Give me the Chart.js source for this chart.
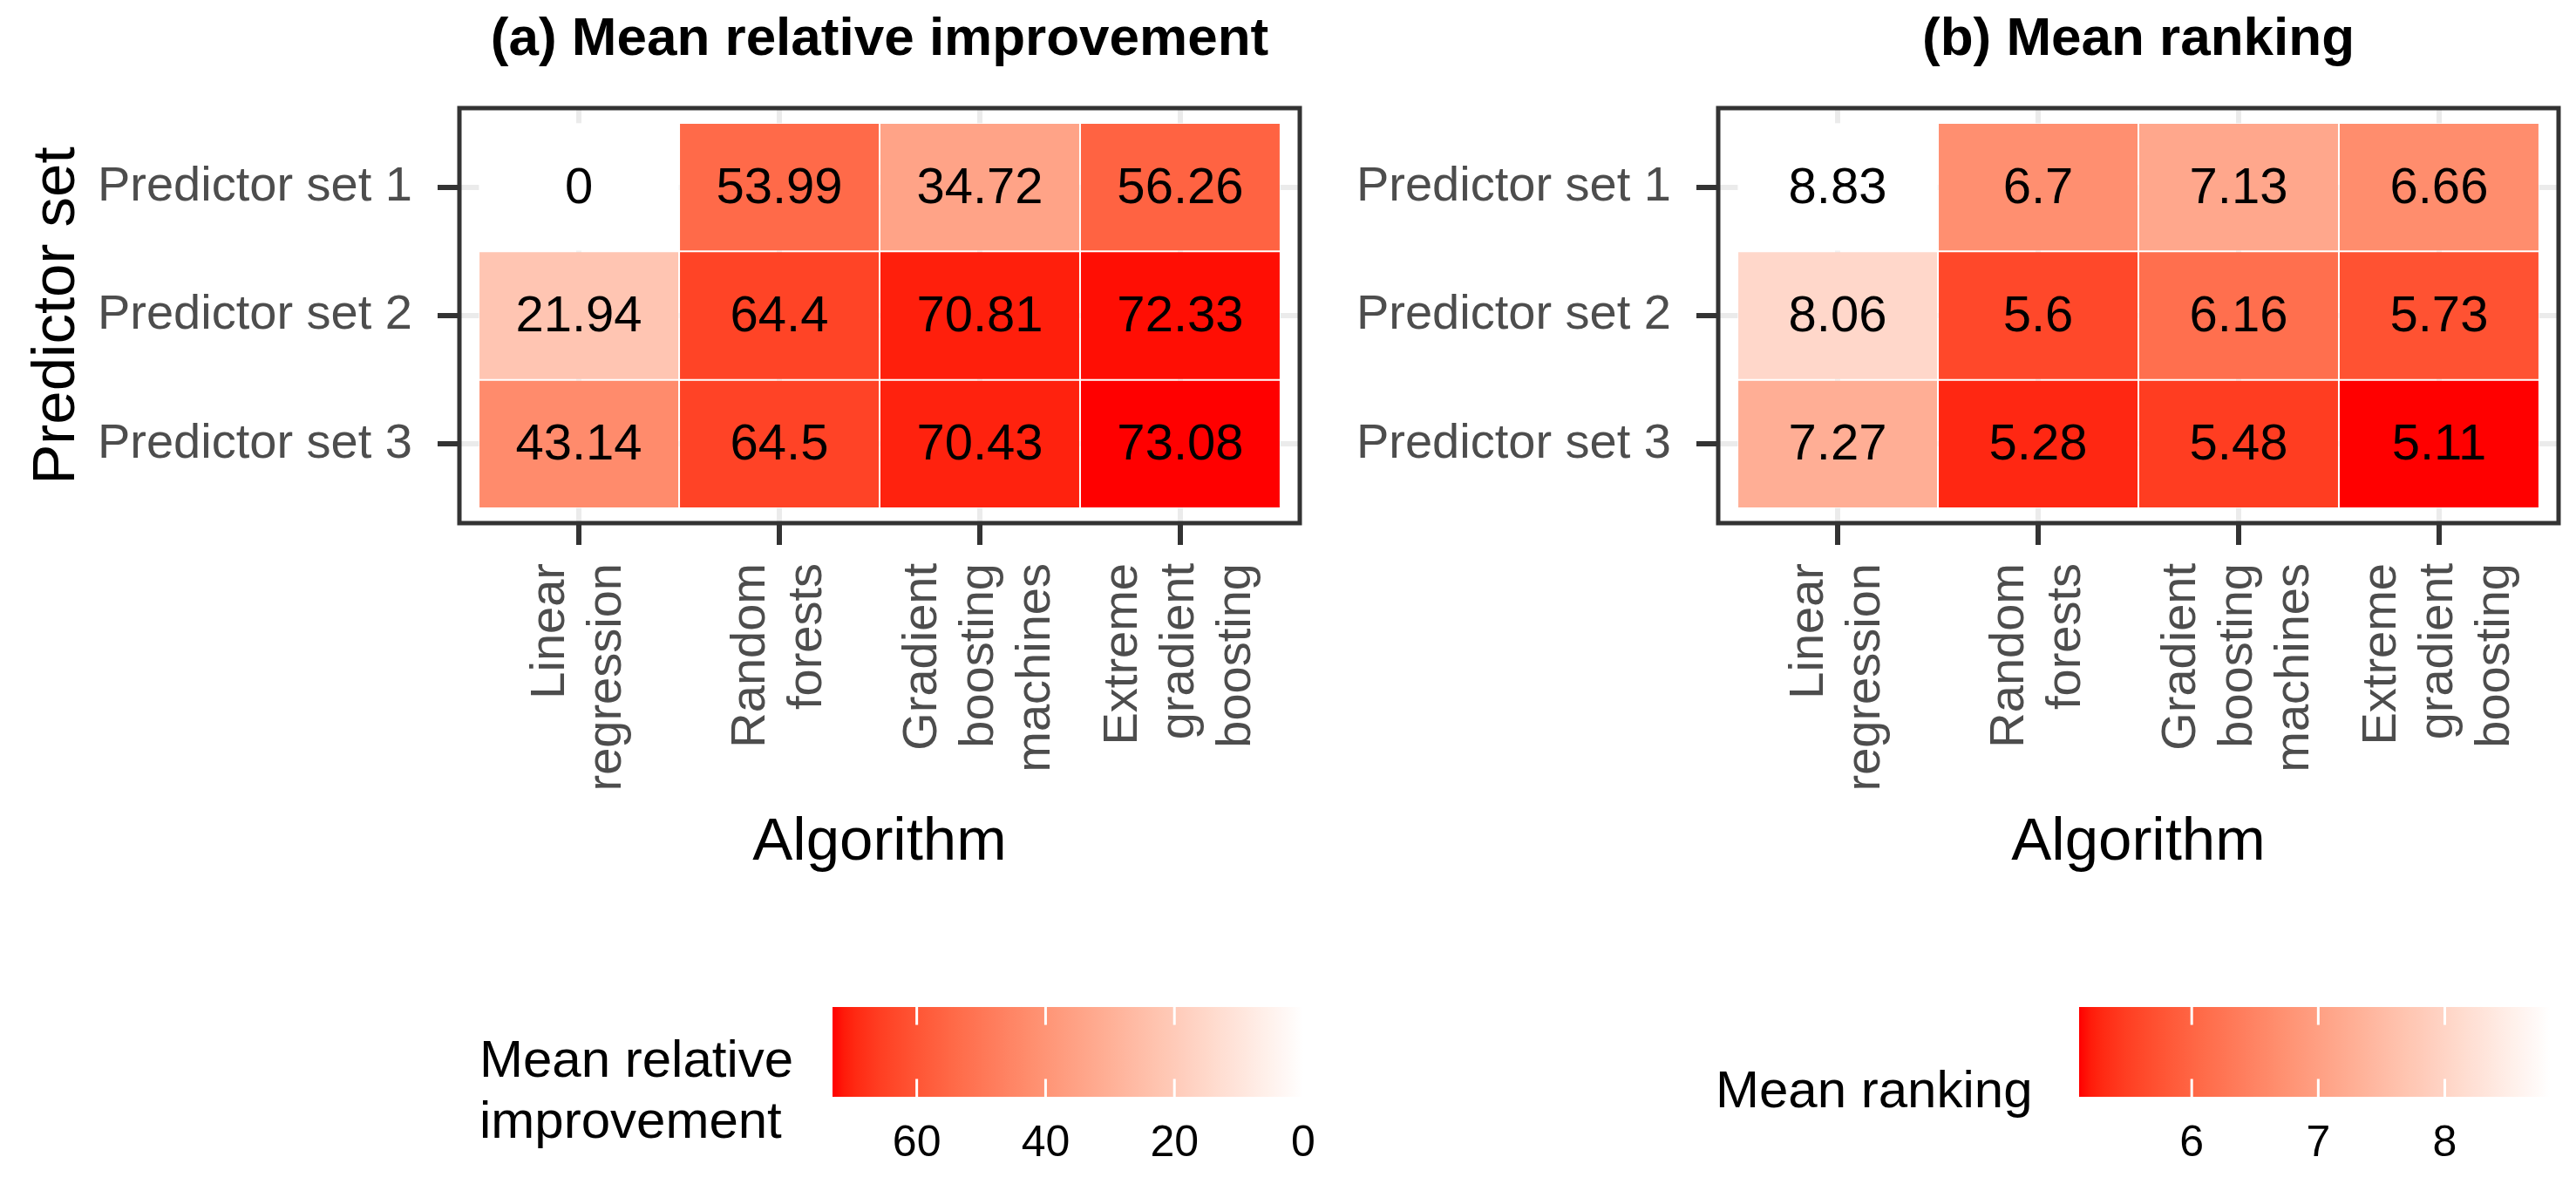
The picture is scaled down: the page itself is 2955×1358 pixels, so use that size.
<!DOCTYPE html>
<html lang="en">
<head>
    <meta charset="UTF-8">
    <title>Mean relative improvement and mean ranking</title>
    <script src="https://cdn.jsdelivr.net/npm/chart.js"></script>
    <style>
        body { margin: 0; background: white; font-family: "Liberation Sans", Arial, sans-serif; }
        .page { position: relative; width: 2955px; height: 1358px; overflow: hidden; background: white; }
        canvas { position: absolute; }
        .title { position: absolute; width: 1000px; text-align: center; font-weight: bold; font-size: 62px; line-height: 62px; color: #000; }
        .legend-title { position: absolute; font-size: 60px; line-height: 70px; color: #000; white-space: nowrap; }
    </style>
</head>
<body>
<div class="page">
    <div class="title" style="left:509px; top:11px;">(a) Mean relative improvement</div>
    <div class="title" style="left:1953px; top:11px;">(b) Mean ranking</div>
    <canvas id="heatA" width="1520" height="1010" style="left:0; top:0;"></canvas>
    <canvas id="heatB" width="1520" height="1010" style="left:1444px; top:0;"></canvas>
    <div class="legend-title" style="left:550px; top:1180px;">Mean relative<br>improvement</div>
    <div class="legend-title" style="left:1968px; top:1215px;">Mean ranking</div>
    <canvas id="barA" width="620" height="258" style="left:900px; top:1100px;"></canvas>
    <canvas id="barB" width="625" height="258" style="left:2330px; top:1100px;"></canvas>
</div>

<script>
    // values
    const algorithms = ['Linear regression', 'Random forests', 'Gradient boosting machines', 'Extreme gradient boosting'];
    const predictorSets = ['Predictor set 1', 'Predictor set 2', 'Predictor set 3'];

    const improvementSet1 = [0, 53.99, 34.72, 56.26];
    const improvementSet2 = [21.94, 64.4, 70.81, 72.33];
    const improvementSet3 = [43.14, 64.5, 70.43, 73.08];

    const rankingSet1 = [8.83, 6.7, 7.13, 6.66];
    const rankingSet2 = [8.06, 5.6, 6.16, 5.73];
    const rankingSet3 = [7.27, 5.28, 5.48, 5.11];

    const improvementTicks = [0, 20, 40, 60];
    const rankingTicks = [6, 7, 8];

    const FONT = '"Liberation Sans", Arial, sans-serif';

    // white -> red in CIELAB, like scale_fill_gradient
    const RED_LAB = [53.2408, 80.0925, 67.2032];
    function whiteToRed(t) {
        t = Math.max(0, Math.min(1, t));
        const L = 100 + (RED_LAB[0] - 100) * t, a = RED_LAB[1] * t, b = RED_LAB[2] * t;
        const fy = (L + 16) / 116, fx = fy + a / 500, fz = fy - b / 200;
        const f = v => v ** 3 > 0.008856 ? v ** 3 : (v - 16 / 116) / 7.787;
        const X = 0.95047 * f(fx), Y = f(fy), Z = 1.08883 * f(fz);
        const lin = [
            3.2406 * X - 1.5372 * Y - 0.4986 * Z,
            -0.9689 * X + 1.8758 * Y + 0.0415 * Z,
            0.0557 * X - 0.2040 * Y + 1.0570 * Z
        ];
        const rgb = lin.map(c => {
            c = Math.max(0, Math.min(1, c));
            c = c <= 0.0031308 ? 12.92 * c : 1.055 * Math.pow(c, 1 / 2.4) - 0.055;
            return Math.round(c * 255);
        });
        return `rgb(${rgb[0]},${rgb[1]},${rgb[2]})`;
    }

    const allImprovement = [...improvementSet1, ...improvementSet2, ...improvementSet3];
    const allRanking = [...rankingSet1, ...rankingSet2, ...rankingSet3];
    const impMin = Math.min(...allImprovement), impMax = Math.max(...allImprovement);
    const rankMin = Math.min(...allRanking), rankMax = Math.max(...allRanking);

    // high improvement = red, low ranking = red
    const impColor = v => whiteToRed((v - impMin) / (impMax - impMin));
    const rankColor = v => whiteToRed((rankMax - v) / (rankMax - rankMin));

    function cells(rows, colorFn) {
        const points = [];
        rows.forEach((row, r) => {
            row.forEach((v, c) => {
                points.push({ x: c + 1, y: [r + 0.5, r + 1.5], v: v, color: colorFn(v) });
            });
        });
        return points;
    }

    const panelBorder = {
        id: 'panelBorder',
        afterDraw(chart) {
            const { ctx, chartArea: a } = chart;
            ctx.save();
            ctx.strokeStyle = '#333333';
            ctx.lineWidth = 5;
            ctx.strokeRect(a.left, a.top, a.right - a.left, a.bottom - a.top);
            ctx.restore();
        }
    };

    const cellLabels = {
        id: 'cellLabels',
        afterDatasetsDraw(chart) {
            const { ctx } = chart;
            const meta = chart.getDatasetMeta(0);
            const data = chart.data.datasets[0].data;
            ctx.save();
            ctx.font = '58px ' + FONT;
            ctx.fillStyle = '#000';
            ctx.textAlign = 'center';
            ctx.textBaseline = 'middle';
            meta.data.forEach((bar, i) => {
                const p = bar.getCenterPoint();
                ctx.fillText(String(data[i].v), p.x, p.y + 2);
            });
            ctx.restore();
        }
    };

    // rotated, multi-line algorithm names centred on each tick
    const algorithmLabels = {
        id: 'algorithmLabels',
        afterDraw(chart) {
            const { ctx, chartArea, scales: { x } } = chart;
            ctx.save();
            ctx.font = '56px ' + FONT;
            ctx.fillStyle = '#4d4d4d';
            ctx.textAlign = 'right';
            ctx.textBaseline = 'middle';
            algorithms.forEach((name, i) => {
                const lines = name.split(' ');
                const px = x.getPixelForValue(i + 1);
                lines.forEach((line, j) => {
                    const off = (j - (lines.length - 1) / 2) * 65;
                    ctx.save();
                    ctx.translate(px + off, chartArea.bottom + 46);
                    ctx.rotate(-Math.PI / 2);
                    ctx.fillText(line, 0, 0);
                    ctx.restore();
                });
            });
            ctx.restore();
        }
    };

    function createHeatmap(id, rows, colorFn, showYTitle) {
        new Chart(document.getElementById(id), {
            type: 'bar',
            data: {
                datasets: [{
                    data: cells(rows, colorFn),
                    backgroundColor: ctx => ctx.raw ? ctx.raw.color : 'white',
                    borderColor: 'rgba(255,255,255,0.7)',
                    borderWidth: 1,
                    borderSkipped: false,
                    barPercentage: 1,
                    categoryPercentage: 1,
                    grouped: false,
                    inflateAmount: 0
                }]
            },
            options: {
                responsive: false,
                animation: false,
                devicePixelRatio: 1,
                layout: { padding: { left: 0, right: 29, top: 124, bottom: 0 } },
                plugins: { legend: { display: false }, tooltip: { enabled: false } },
                scales: {
                    x: {
                        type: 'linear',
                        offset: false,
                        min: 0.404,
                        max: 4.596,
                        afterBuildTicks: s => { s.ticks = algorithms.map((_, i) => ({ value: i + 1 })); },
                        afterFit: s => { s.height = 410; },
                        ticks: { display: false },
                        grid: { offset: false, color: '#ebebeb', lineWidth: 6, tickColor: '#333333', tickWidth: 6, tickLength: 25 },
                        border: { display: false },
                        title: {
                            display: true, text: 'Algorithm', color: '#000',
                            font: { family: FONT, size: 69 }, padding: { top: 0, bottom: 2 }
                        }
                    },
                    y: {
                        type: 'linear',
                        reverse: true,
                        min: 0.385,
                        max: 3.615,
                        afterBuildTicks: s => { s.ticks = predictorSets.map((_, i) => ({ value: i + 1 })); },
                        afterFit: s => { s.width = 527; },
                        ticks: {
                            callback: v => predictorSets[v - 1],
                            color: '#4d4d4d',
                            font: { family: FONT, size: 56 },
                            padding: 29
                        },
                        grid: { color: '#ebebeb', lineWidth: 6, tickColor: '#333333', tickWidth: 6, tickLength: 25 },
                        border: { display: false },
                        title: {
                            display: showYTitle, text: 'Predictor set', color: '#000',
                            font: { family: FONT, size: 69 }, padding: { top: 25, bottom: 0 }
                        }
                    }
                }
            },
            plugins: [cellLabels, algorithmLabels, panelBorder]
        });
    }

    // short white marks on the colour bar at each break
    const barTicks = {
        id: 'barTicks',
        afterDatasetsDraw(chart, args, opts) {
            const { ctx, chartArea: a, scales: { x } } = chart;
            const len = (a.bottom - a.top) / 5;
            ctx.save();
            ctx.strokeStyle = 'white';
            ctx.lineWidth = 3;
            opts.values.forEach(v => {
                const px = x.getPixelForValue(v);
                ctx.beginPath();
                ctx.moveTo(px, a.top); ctx.lineTo(px, a.top + len);
                ctx.moveTo(px, a.bottom - len); ctx.lineTo(px, a.bottom);
                ctx.stroke();
            });
            ctx.restore();
        }
    };

    function createColorbar(id, lo, hi, reverse, tickValues, colorFn, padLeft, padRight) {
        new Chart(document.getElementById(id), {
            type: 'bar',
            data: {
                labels: [''],
                datasets: [{
                    data: [[lo, hi]],
                    backgroundColor: c => {
                        const chart = c.chart;
                        if (!chart.chartArea) return 'white';
                        const x = chart.scales.x;
                        const x0 = x.getPixelForValue(lo), x1 = x.getPixelForValue(hi);
                        const g = chart.ctx.createLinearGradient(x0, 0, x1, 0);
                        for (let i = 0; i <= 40; i++) {
                            g.addColorStop(i / 40, colorFn(lo + (hi - lo) * i / 40));
                        }
                        return g;
                    },
                    borderWidth: 0,
                    barPercentage: 1,
                    categoryPercentage: 1,
                    inflateAmount: 0
                }]
            },
            options: {
                indexAxis: 'y',
                responsive: false,
                animation: false,
                devicePixelRatio: 1,
                layout: { padding: { left: padLeft, right: padRight, top: 55, bottom: 0 } },
                plugins: { legend: { display: false }, tooltip: { enabled: false }, barTicks: { values: tickValues } },
                scales: {
                    x: {
                        type: 'linear',
                        min: lo,
                        max: hi,
                        reverse: reverse,
                        afterBuildTicks: s => { s.ticks = tickValues.map(v => ({ value: v })); },
                        afterFit: s => { s.height = 100; },
                        ticks: { color: '#000', font: { family: FONT, size: 50 }, padding: 24 },
                        grid: { display: false, drawTicks: false },
                        border: { display: false }
                    },
                    y: { display: false }
                }
            },
            plugins: [barTicks]
        });
    }

    createHeatmap('heatA', [improvementSet1, improvementSet2, improvementSet3], impColor, true);
    createHeatmap('heatB', [rankingSet1, rankingSet2, rankingSet3], rankColor, false);
    createColorbar('barA', impMin, impMax, true, improvementTicks, impColor, 55, 25);
    createColorbar('barB', rankMin, rankMax, false, rankingTicks, rankColor, 55, 30);
</script>
</body>
</html>
